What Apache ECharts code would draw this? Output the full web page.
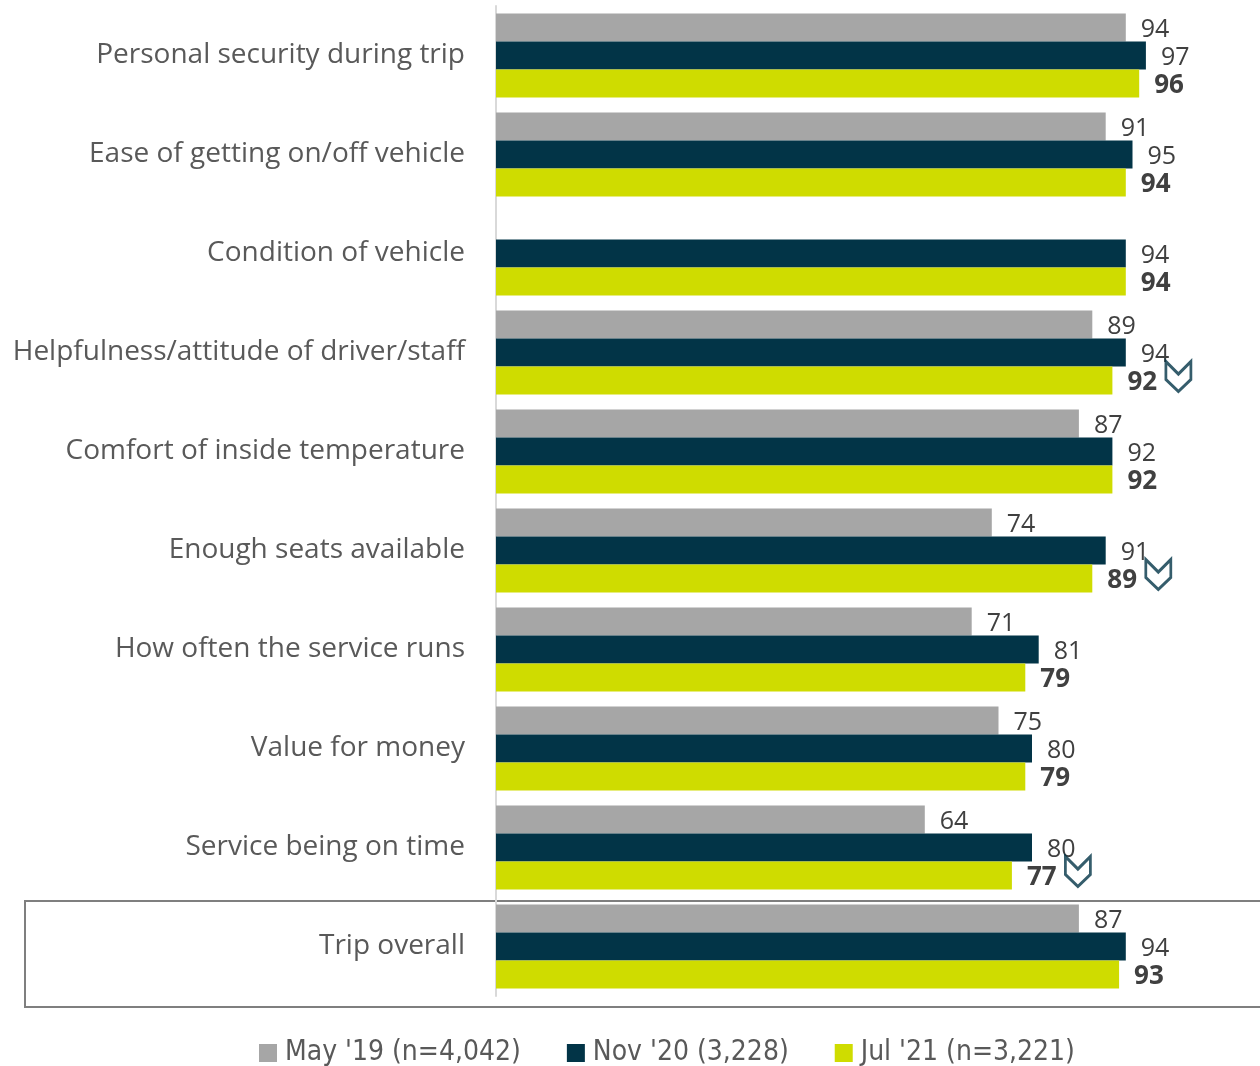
<!DOCTYPE html>
<html>
<head>
<meta charset="utf-8">
<script src="https://cdn.jsdelivr.net/npm/echarts@6/dist/echarts.min.js"></script>
<style>
  html, body { margin: 0; padding: 0; background: #fff; }
  #chart { width: 1260px; height: 1066px; }
</style>
</head>
<body>
<div id="chart"></div>
<script>
// satisfaction (% satisfied) per aspect of trip
const categories = [
  'Personal security during trip',
  'Ease of getting on/off vehicle',
  'Condition of vehicle',
  'Helpfulness/attitude of driver/staff',
  'Comfort of inside temperature',
  'Enough seats available',
  'How often the service runs',
  'Value for money',
  'Service being on time',
  'Trip overall'
];
const seriesNames = ['May \'19 (n=4,042)', 'Nov \'20 (3,228)', 'Jul \'21 (n=3,221)'];
const may19 = [94, 91, null, 89, 87, 74, 71, 75, 64, 87];
const nov20 = [97, 95, 94, 94, 92, 91, 81, 80, 80, 94];
const jul21 = [96, 94, 94, 92, 92, 89, 79, 79, 77, 93];
// significant decrease vs previous wave
const declined = ['Helpfulness/attitude of driver/staff', 'Enough seats available', 'Service being on time'];

const colors = ['#A6A6A6', '#023447', '#CFDC00'];
const chevron = 'path://M0,0 L50,42 L100,0 L100,60 L50,100 L0,60 Z';

const chart = echarts.init(document.getElementById('chart'));

const labelStyle = (bold) => ({
  show: true,
  position: 'right',
  distance: 15,
  offset: [0, 2],
  color: '#404040',
  fontFamily: 'Open Sans',
  fontSize: bold ? 26 : 25,
  fontWeight: bold ? 'bold' : 'normal'
});

const barSeries = [may19, nov20, jul21].map((vals, i) => ({
  name: seriesNames[i],
  type: 'bar',
  data: vals,
  barWidth: 28,
  barGap: '0%',
  barCategoryGap: '15%',
  itemStyle: { color: colors[i] },
  label: labelStyle(i === 2),
  silent: true
}));

const option = {
  animation: false,
  grid: { left: 496, width: 670, top: 6, height: 990 },
  legend: {
    top: 1034,
    left: 254,
    itemWidth: 18,
    itemHeight: 18,
    itemGap: 46,
    icon: 'rect',
    textStyle: {
      color: '#595959',
      fontFamily: '"Liberation Sans Narrow", "DejaVu Sans Condensed", sans-serif',
      fontSize: 28,
      padding: [0, 0, 0, 3]
    },
    data: seriesNames
  },
  xAxis: {
    type: 'value',
    min: 0,
    max: 100,
    show: false
  },
  yAxis: {
    type: 'category',
    inverse: true,
    data: categories,
    axisTick: { show: false },
    axisLine: { show: true, lineStyle: { color: '#D9D9D9', width: 2 } },
    axisLabel: {
      margin: 31,
      color: '#595959',
      fontFamily: 'Open Sans',
      fontSize: 28,
      padding: [6, 0, 0, 0]
    }
  },
  graphic: [{
    type: 'rect',
    shape: { x: 25, y: 901, width: 1240, height: 106 },
    style: { fill: 'none', stroke: '#7F7F7F', lineWidth: 2 },
    z: 0,
    silent: true
  }],
  series: barSeries.concat([{
    name: 'decline',
    type: 'scatter',
    data: categories.map((c, i) => declined.includes(c) ? [jul21[i], c] : null).filter(Boolean),
    symbol: chevron,
    symbolSize: [25, 30],
    symbolOffset: [66, 24],
    itemStyle: { color: '#fff', borderColor: '#023447', borderWidth: 3 },
    z: 5,
    silent: true
  }])
};

chart.setOption(option);
window.addEventListener('resize', () => chart.resize());
</script>
</body>
</html>
